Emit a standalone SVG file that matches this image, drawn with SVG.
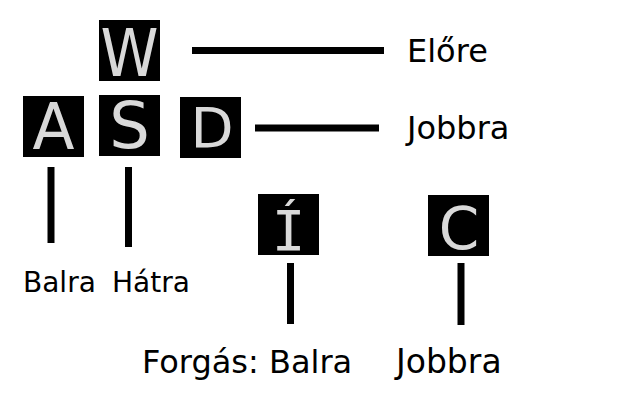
<svg xmlns="http://www.w3.org/2000/svg" width="640" height="400" viewBox="0 0 640 400">
  <style>
    .key { fill: #000000; }
    .kl { fill: #d9d9d9; font-family: "DejaVu Sans", sans-serif; text-anchor: middle; }
    .km { fill: #d9d9d9; font-family: "DejaVu Sans Mono", monospace; text-anchor: middle; }
    .lbl { fill: #000000; font-family: "DejaVu Sans", sans-serif; }
    .conn line { stroke: #000000; stroke-width: 7; }
  </style>
  <rect width="640" height="400" fill="#ffffff"/>
  <g id="connectors" class="conn">
    <line x1="192" y1="50.5" x2="384" y2="50.5"/>
    <line x1="255" y1="128" x2="379" y2="128"/>
    <line x1="51" y1="167" x2="51" y2="243"/>
    <line x1="128.5" y1="167" x2="128.5" y2="247"/>
    <line x1="290.5" y1="263" x2="290.5" y2="324"/>
    <line x1="461" y1="263" x2="461" y2="325"/>
  </g>
  <g id="key-W">
    <rect class="key" x="99" y="20" width="61" height="61"/>
    <text class="kl" x="129.5" y="76" font-size="65" textLength="58" lengthAdjust="spacingAndGlyphs">W</text>
  </g>
  <g id="key-A">
    <rect class="key" x="23" y="96" width="61" height="61"/>
    <text class="kl" x="53.5" y="149" font-size="64" textLength="42" lengthAdjust="spacingAndGlyphs">A</text>
  </g>
  <g id="key-S">
    <rect class="key" x="99" y="95" width="61" height="61"/>
    <text class="kl" x="129.5" y="148" font-size="64">S</text>
  </g>
  <g id="key-D">
    <rect class="key" x="180" y="97" width="61" height="61"/>
    <text class="kl" x="212" y="147" font-size="56">D</text>
  </g>
  <g id="key-I">
    <rect class="key" x="258" y="194" width="61" height="61"/>
    <text class="km" x="288.5" y="250" font-size="56">Í</text>
  </g>
  <g id="key-C">
    <rect class="key" x="428" y="195" width="61" height="61"/>
    <text class="kl" x="459" y="249" font-size="58">C</text>
  </g>
  <g id="label-elore"><text class="lbl" x="407" y="62" font-size="32">Előre</text></g>
  <g id="label-jobbra"><text class="lbl" x="407" y="139" font-size="32">Jobbra</text></g>
  <g id="label-balra"><text class="lbl" x="23" y="292" font-size="28">Balra</text></g>
  <g id="label-hatra"><text class="lbl" x="112" y="292" font-size="28">Hátra</text></g>
  <g id="label-forgas"><text class="lbl" x="142" y="373" font-size="32">Forgás: Balra</text></g>
  <g id="label-jobbra2"><text class="lbl" x="396" y="373" font-size="33">Jobbra</text></g>
</svg>
